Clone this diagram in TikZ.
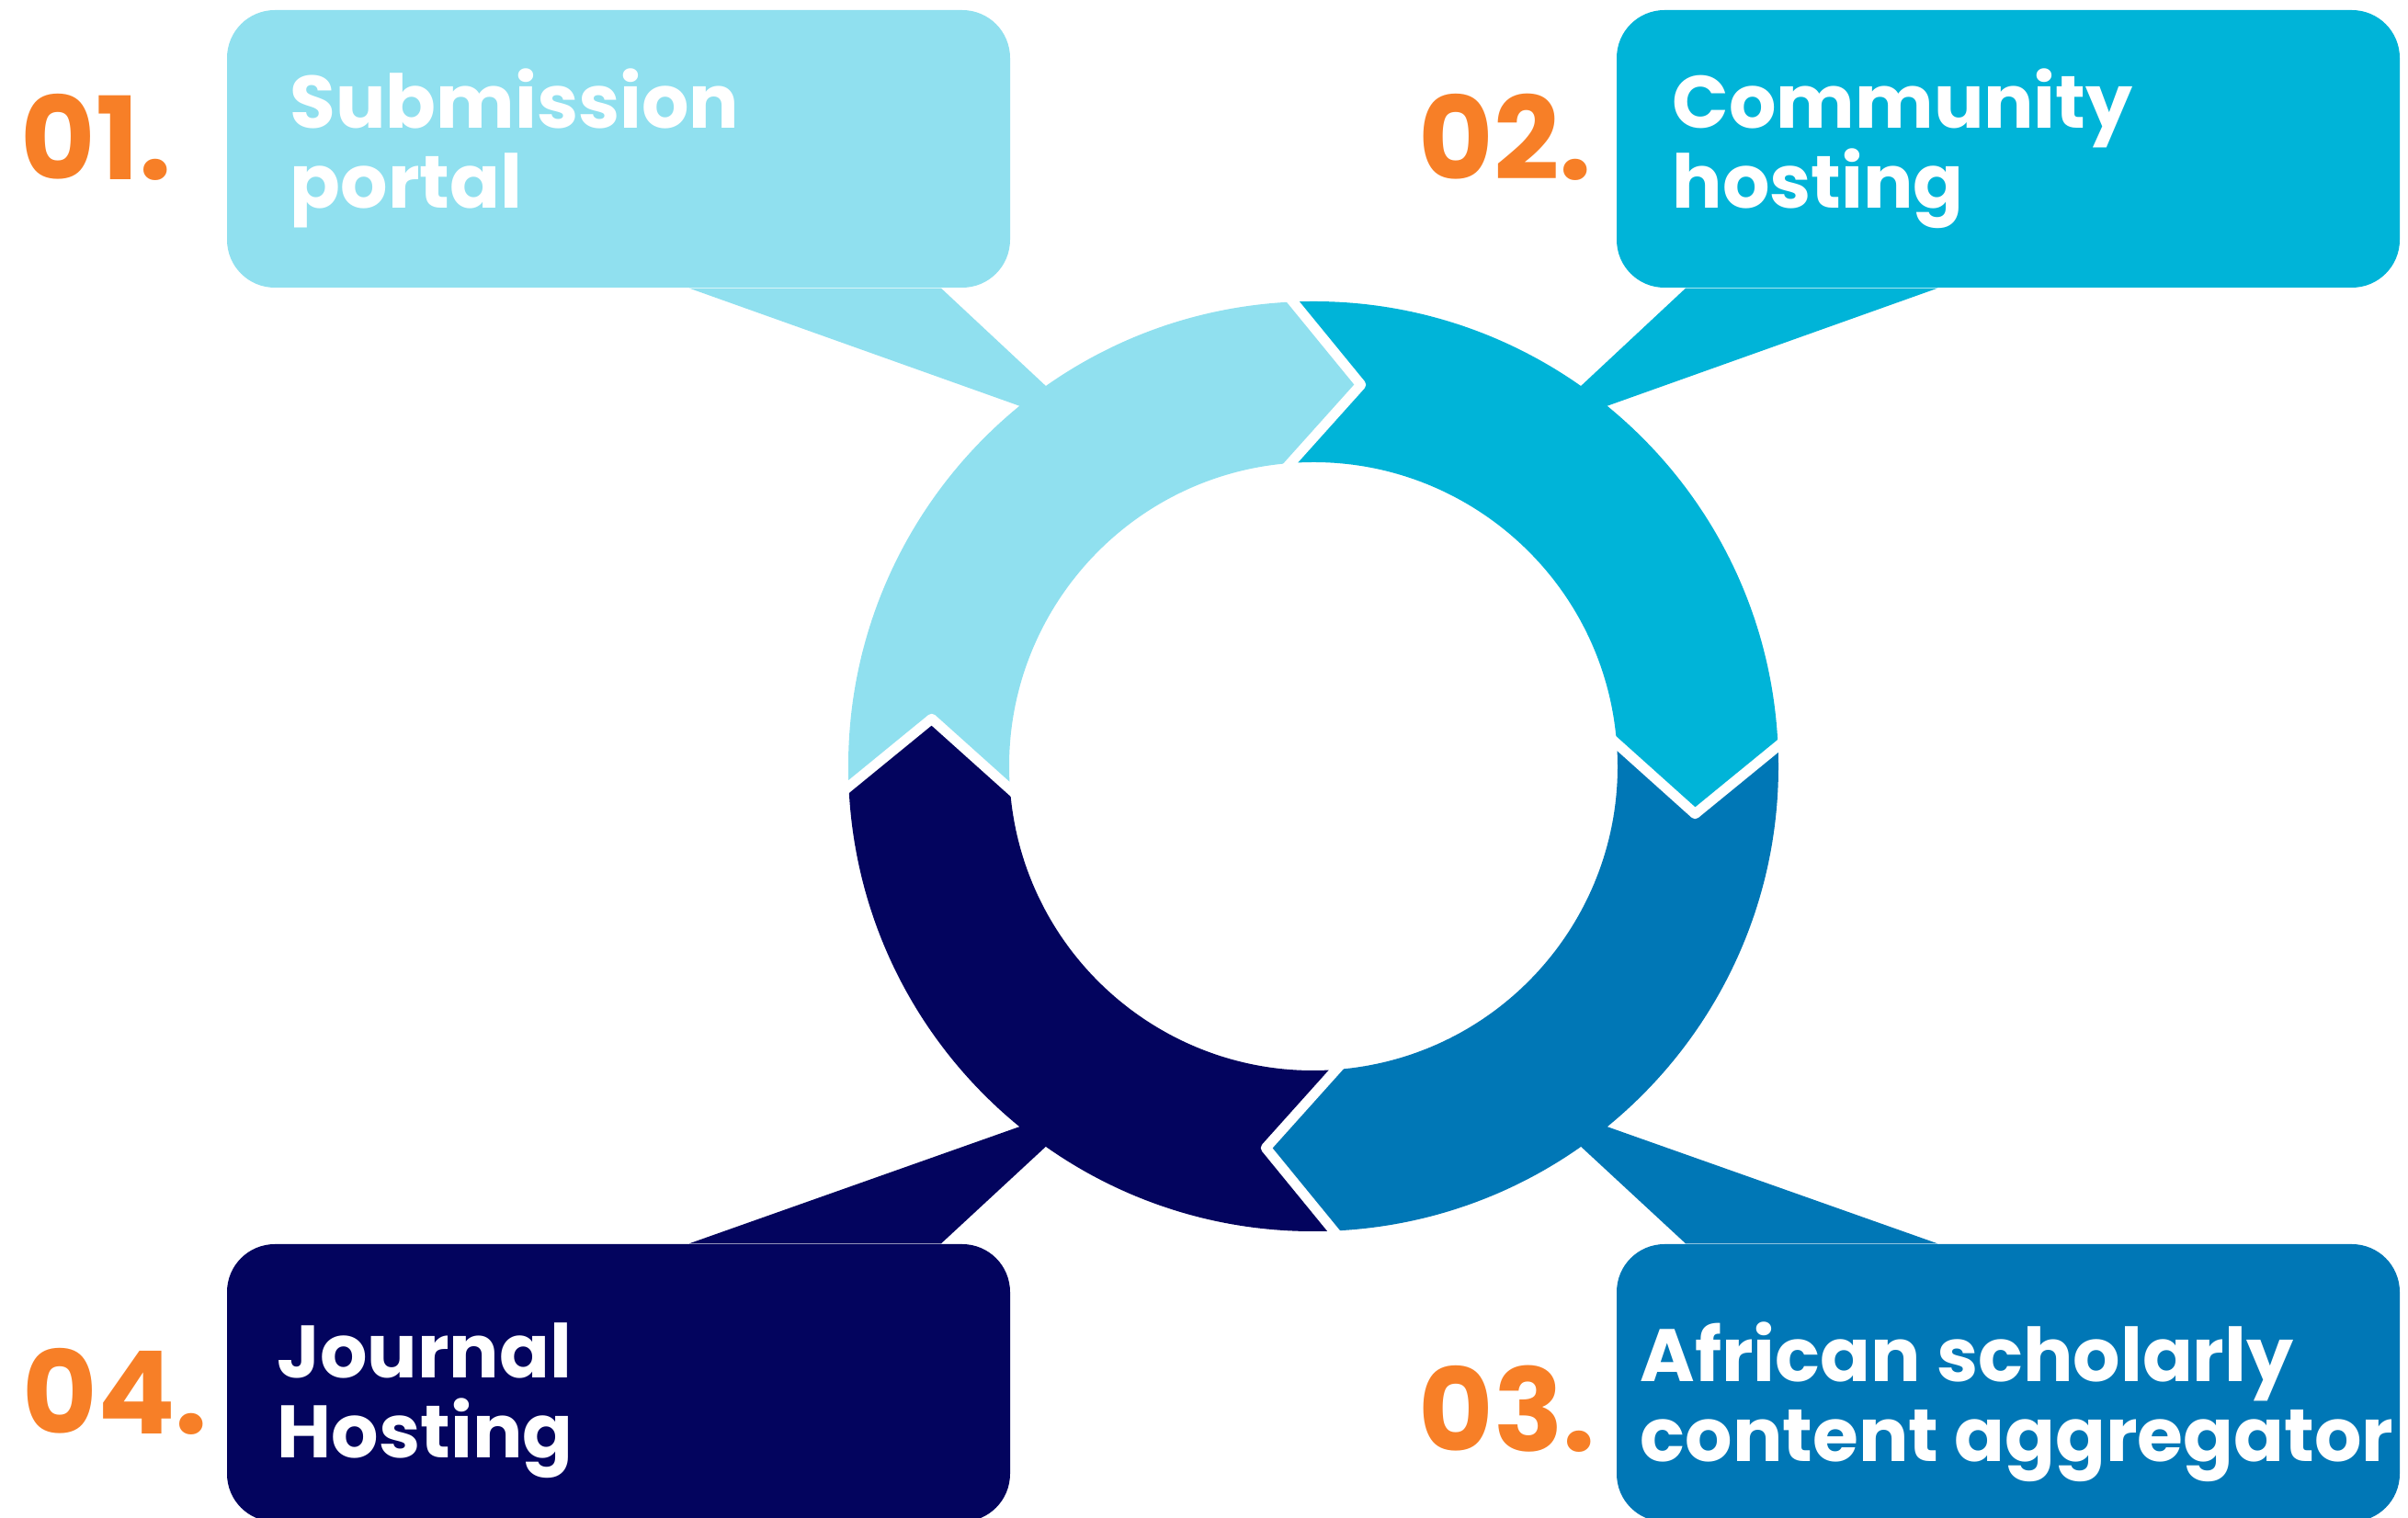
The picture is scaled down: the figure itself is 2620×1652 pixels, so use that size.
\documentclass[tikz,border=0pt]{standalone}
\usepackage{fontspec}
\setmainfont{Poppins}
\usetikzlibrary{calc}
\definecolor{paleblue}{HTML}{90E0EF}
\definecolor{skyblue}{HTML}{00B4D8}
\definecolor{oceanblue}{HTML}{0077B6}
\definecolor{navyblue}{HTML}{03045E}
\definecolor{tagorange}{HTML}{F77F27}
\begin{document}
\begin{tikzpicture}[x=0.1mm,y=0.1mm,
    bubble/.style={rounded corners=5.2mm, minimum width=85.2mm, minimum height=30.2mm, inner sep=0pt},
    bubbletext/.style={anchor=base west, inner sep=0pt, align=left, text=white,
      font=\fontsize{23}{25}\selectfont\bfseries},
    numtag/.style={anchor=base west, inner sep=0pt, text=tagorange,
      font=\fontsize{35.6}{36}\selectfont\bfseries},
    gap/.style={white, line width=1.1mm, line join=round}]
  \useasboundingbox (0,0) rectangle (2620,1652);
  \coordinate (hub) at (1429,818);

  \node[bubble, fill=paleblue] (portal) at (673,1490) {};
  \node[bubble, fill=skyblue] (community) at (2185,1490) {};
  \node[bubble, fill=oceanblue] (aggregator) at (2185,147) {};
  \node[bubble, fill=navyblue] (journal) at (673,147) {};

  \fill[paleblue] ($(portal.south)+(77,0)$) -- (1138,1200) -- (1155,1216) -- ($(portal.south)+(351,0)$) -- cycle;
  \fill[skyblue] ($(community.south)+(-77,0)$) -- (1720,1200) -- (1703,1216) -- ($(community.south)+(-351,0)$) -- cycle;
  \fill[oceanblue] ($(aggregator.north)+(-77,0)$) -- (1720,436) -- (1703,420) -- ($(aggregator.north)+(-351,0)$) -- cycle;
  \fill[navyblue] ($(journal.north)+(77,0)$) -- (1138,436) -- (1155,420) -- ($(journal.north)+(351,0)$) -- cycle;

  \begin{scope}[shift={(hub)}]
    \foreach \s/\col in {180/paleblue,90/skyblue,0/oceanblue,-90/navyblue}{
      \pgfmathsetmacro{\e}{\s-90}
      \fill[\col] (\s+3:50.6mm) arc[start angle=\s+3, end angle=\e+3, radius=50.6mm]
        -- (\e-7.1:41.85mm) -- (\e+5.4:33.1mm)
        arc[start angle=\e+5.4, end angle=\s+5.4, radius=33.1mm]
        -- (\s-7.1:41.85mm) -- cycle;
    }
    \foreach \b in {90,0,-90,-180}
      \draw[gap] (\b+3:51.2mm) -- (\b-7.1:41.85mm) -- (\b+5.4:32.5mm);
  \end{scope}

  \node[numtag] (num1) at (22,1456) {01.};
  \node[numtag] (num2) at (1543,1456) {02.};
  \node[numtag] (num3) at (1543,72) {03.};
  \node[numtag] (num4) at (24,91) {04.};

  \node[bubbletext] (txt1) at (315,1425) {Submission\\portal};
  \node[bubbletext] (txt2) at (1819,1425) {Community\\hosting};
  \node[bubbletext] (txt3) at (1784,61) {African scholarly\\content aggregator};
  \node[bubbletext] (txt4) at (301,65) {Journal\\Hosting};
\end{tikzpicture}
\end{document}
